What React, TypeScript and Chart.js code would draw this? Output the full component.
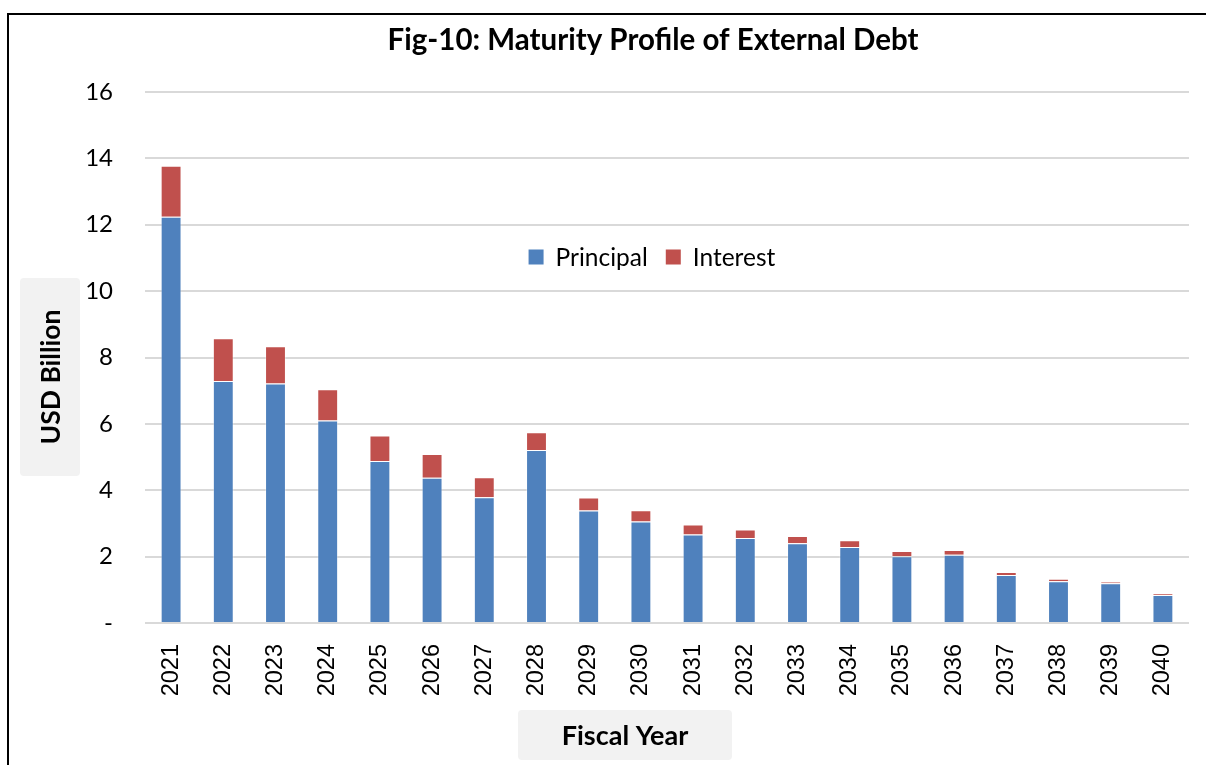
import React, { useEffect, useRef } from "react";
import { Chart, registerables } from "chart.js";

Chart.register(...registerables);

const years = ["2021","2022","2023","2024","2025","2026","2027","2028","2029","2030","2031","2032","2033","2034","2035","2036","2037","2038","2039","2040"];
const principal = [12.24, 7.29, 7.22, 6.10, 4.88, 4.38, 3.79, 5.21, 3.39, 3.06, 2.67, 2.56, 2.40, 2.29, 2.01, 2.06, 1.45, 1.26, 1.20, 0.84];
const interest = [1.54, 1.29, 1.12, 0.94, 0.77, 0.71, 0.60, 0.54, 0.39, 0.34, 0.30, 0.26, 0.22, 0.20, 0.16, 0.14, 0.09, 0.07, 0.04, 0.05];
const yTicks = [0, 2, 4, 6, 8, 10, 12, 14, 16];

const TITLE = "Fig-10: Maturity Profile of External Debt";
const Y_TITLE = "USD Billion";
const X_TITLE = "Fiscal Year";

const FONT = "Lato, 'Open Sans', sans-serif";

function roundRect(ctx: CanvasRenderingContext2D, x: number, y: number, w: number, h: number, r: number) {
  ctx.beginPath();
  ctx.moveTo(x + r, y);
  ctx.lineTo(x + w - r, y);
  ctx.quadraticCurveTo(x + w, y, x + w, y + r);
  ctx.lineTo(x + w, y + h - r);
  ctx.quadraticCurveTo(x + w, y + h, x + w - r, y + h);
  ctx.lineTo(x + r, y + h);
  ctx.quadraticCurveTo(x, y + h, x, y + h - r);
  ctx.lineTo(x, y + r);
  ctx.quadraticCurveTo(x, y, x + r, y);
  ctx.closePath();
}

const decorPlugin = {
  id: "decor",
  beforeDraw(chart: any) {
    const ctx: CanvasRenderingContext2D = chart.ctx;
    const ca = chart.chartArea;
    ctx.save();
    // Y title box
    ctx.fillStyle = "#F2F2F2";
    const yb = { x: ca.left - 125, y: ca.top + 186, w: 60, h: 198 };
    roundRect(ctx, yb.x, yb.y, yb.w, yb.h, 4);
    ctx.fill();
    // X title box
    const xb = { x: ca.left + 373, y: ca.bottom + 87, w: 214, h: 50 };
    roundRect(ctx, xb.x, xb.y, xb.w, xb.h, 4);
    ctx.fill();

    ctx.fillStyle = "#000";
    ctx.font = `bold 27px ${FONT}`;
    ctx.textAlign = "center";
    ctx.textBaseline = "middle";
    ctx.fillText(X_TITLE, xb.x + xb.w / 2, xb.y + xb.h / 2 + 1);

    ctx.save();
    ctx.translate(yb.x + yb.w / 2, yb.y + yb.h / 2);
    ctx.rotate(-Math.PI / 2);
    ctx.font = `bold 26.5px ${FONT}`;
    ctx.fillText(Y_TITLE, 0, 1);
    ctx.restore();

    // Title
    ctx.font = `bold 29.5px ${FONT}`;
    ctx.fillText(TITLE, 653, 40);
    ctx.restore();
  },
  afterDraw(chart: any) {
    const ctx: CanvasRenderingContext2D = chart.ctx;
    const ca = chart.chartArea;
    ctx.save();
    ctx.font = `24.5px ${FONT}`;
    ctx.textBaseline = "middle";
    ctx.textAlign = "left";
    const box = 15, gapText = 12, gapItem = 18;
    const items = chart.data.datasets.map((d: any) => ({ label: d.label, color: d.backgroundColor, w: ctx.measureText(d.label).width }));
    const total = items.reduce((s: number, it: any) => s + box + gapText + it.w, 0) + gapItem * (items.length - 1);
    const cx = ca.left + 0.4856 * (ca.right - ca.left);
    const cy = ca.top + 165;
    let x = cx - total / 2;
    items.forEach((it: any) => {
      ctx.fillStyle = it.color;
      ctx.fillRect(x, cy - box / 2, box, box);
      x += box + gapText;
      ctx.fillStyle = "#000";
      ctx.fillText(it.label, x, cy + 1);
      x += it.w + gapItem;
    });
    ctx.restore();
  },
};

export default function App() {
  const ref = useRef<HTMLCanvasElement>(null);
  useEffect(() => {
    if (!ref.current) return;
    const chart = new Chart(ref.current, {
      type: "bar",
      data: {
        labels: years,
        datasets: [
          { label: "Principal", data: principal, backgroundColor: "#4F81BD", borderColor: "rgba(255,255,255,0.35)", borderWidth: 1 },
          { label: "Interest", data: interest, backgroundColor: "#C0504D", borderColor: "rgba(255,255,255,0.35)", borderWidth: 1 },
        ],
      },
      options: {
        animation: false,
        responsive: false,
        maintainAspectRatio: false,
        devicePixelRatio: 1,
        layout: { padding: { top: 92, right: 17, bottom: 0, left: 0 } },
        datasets: { bar: { categoryPercentage: 1, barPercentage: 0.4 } },
        plugins: {
          legend: { display: false },
          title: { display: false },
          tooltip: { enabled: false },
        },
        scales: {
          x: {
            stacked: true,
            grid: { display: false },
            border: { display: false },
            ticks: {
              color: "#000",
              font: { family: "'Liberation Sans', Arial, sans-serif", size: 23.5 },
              minRotation: 90,
              maxRotation: 90,
              padding: 13,
              autoSkip: false,
            },
            afterFit(scale: any) { scale.height = 142; },
          },
          y: {
            stacked: true,
            min: 0,
            max: 16,
            afterBuildTicks(scale: any) { scale.ticks = yTicks.map((v) => ({ value: v })); },
            grid: { color: "#D9D9D9", lineWidth: 2, drawTicks: false },
            border: { display: false },
            ticks: {
              color: "#000",
              font: { family: FONT, size: 24 },
              padding: 32,
              callback: (v: any) => (Number(v) === 0 ? "-" : String(v)),
            },
            afterFit(scale: any) { scale.width = 145; },
          },
        },
      },
      plugins: [decorPlugin],
    } as any);
    return () => chart.destroy();
  }, []);

  return (
    <div style={{ position: "absolute", left: 0, top: 0, width: 1206, height: 765, overflow: "hidden", background: "#fff" }}>
      <canvas ref={ref} width={1206} height={765} style={{ position: "absolute", left: 0, top: 0, width: 1206, height: 765 }} />
      <div style={{ position: "absolute", left: 7, top: 13, width: 1300, height: 900, border: "2px solid #000", boxSizing: "border-box", pointerEvents: "none" }} />
    </div>
  );
}
